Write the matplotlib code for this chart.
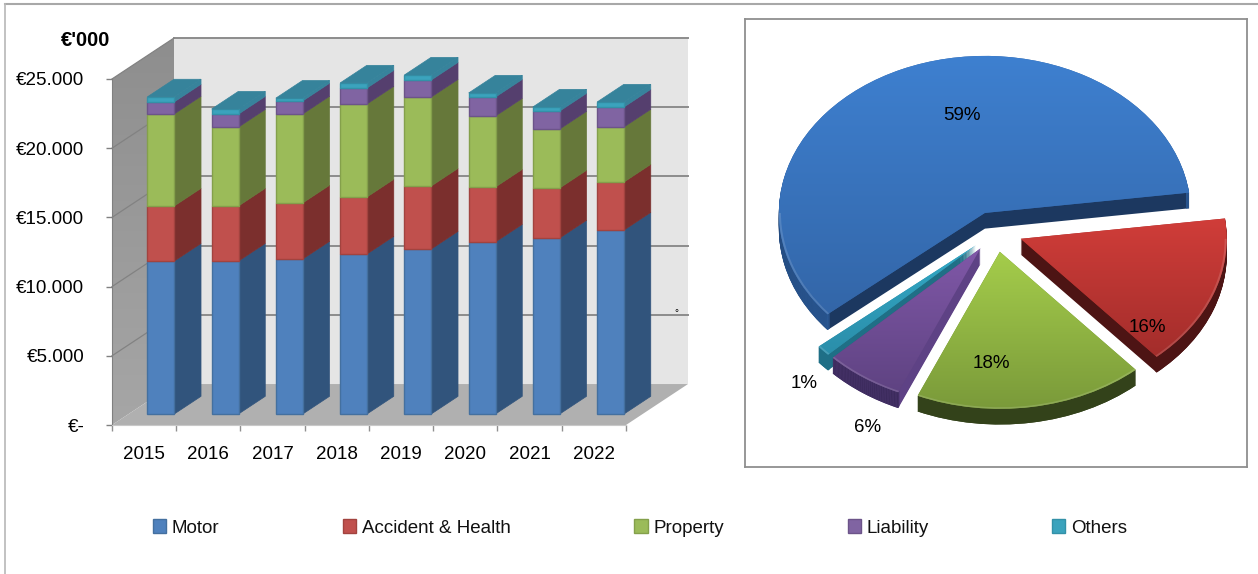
import numpy as np
import matplotlib
matplotlib.use('Agg')
import matplotlib.pyplot as plt
from matplotlib.colors import LinearSegmentedColormap
from matplotlib.lines import Line2D
from matplotlib.patches import Patch, Polygon, Wedge

plt.rcParams['font.family'] = ['Liberation Sans', 'DejaVu Sans']
plt.rcParams['font.size'] = 13.5

# data
years = ['2015', '2016', '2017', '2018', '2019', '2020', '2021', '2022']
series_names = ['Motor', 'Accident & Health', 'Property', 'Liability', 'Others']
motor = [11050, 11050, 11200, 11560, 11920, 12430, 12720, 13290]
accident = [3980, 3980, 4050, 4120, 4550, 3970, 3610, 3470]
prop = [6650, 5700, 6430, 6720, 6430, 5130, 4260, 3980]
liability = [870, 940, 940, 1155, 1230, 1370, 1300, 1440]
others = [360, 360, 200, 360, 360, 290, 290, 360]
y_ticks = [0, 5000, 10000, 15000, 20000, 25000]
y_labels = ['€-', '€5.000', '€10.000', '€15.000', '€20.000', '€25.000']
pie_shares = [59.1, 15.6, 18, 6.2, 1.1]
pie_labels = ['59%', '16%', '18%', '6%', '1%']

# colours per series
front_cols = ['#4f81bd', '#c0504d', '#9bbb59', '#8064a2', '#3ba3bd']
edge_cols = ['#44709f', '#a2433f', '#84a04b', '#6c5489', '#3391a8']
side_cols = ['#31547c', '#7b2f2d', '#66783a', '#553f6e', '#37839c']
top_col = '#36839b'
pie_light = ['#3e80d0', '#d03d39', '#a5cd4b', '#8058a8', '#33a9c6']
pie_dark = ['#3366a8', '#a32d2b', '#7a9a3a', '#5f4382', '#2b8eaa']
pie_side = ['#1c3860', '#4d1414', '#33421a', '#5e4285', '#1f6f86']
pie_rim = ['#2c5c9a', '#4d1414', '#33421a', '#3a2a5a', '#1f6f86']

W, H = 1258, 574
fig = plt.figure(figsize=(W / 100, H / 100), dpi=100, facecolor='white')

# border of the slide
fig.add_artist(Line2D([5 / W, 1], [1 - 4 / H, 1 - 4 / H], color='#a8a8a8', lw=1.5))
fig.add_artist(Line2D([5 / W, 5 / W], [0, 1 - 4 / H], color='#b8b8b8', lw=1.2))

# ---- stacked bars with fake 3D ----
ax = fig.add_axes([112 / W, 1 - 425 / H, (626 - 112) / W, (425 - 79) / H])

depth_x = 0.965
depth_y = 2960
bar_off = 0.27
bar_depth = 0.43
bar_w = 0.42
top_v = y_ticks[-1]
n_cat = len(years)

# walls and floor, left wall gets lighter towards the bottom
wall = Polygon([(0, 0), (depth_x, depth_y), (depth_x, top_v + depth_y), (0, top_v)],
               transform=ax.transData, fc='none', lw=0)
ax.add_patch(wall)
wall_cmap = LinearSegmentedColormap.from_list('wall', ['#8e8e8e', '#a6a6a6'])
wall_im = ax.imshow(np.linspace(0, 1, 100).reshape(-1, 1), cmap=wall_cmap, aspect='auto', origin='upper',
                    extent=(0, depth_x, 0, top_v + depth_y), zorder=1)
wall_im.set_clip_path(wall)
# the wall sticks out above the axes, so clip to the figure instead
wall_im.set_clip_box(fig.bbox)
ax.fill([depth_x, n_cat + depth_x, n_cat + depth_x, depth_x],
        [depth_y, depth_y, top_v + depth_y, top_v + depth_y],
        color='#e5e5e5', lw=0, clip_on=False, zorder=1)
ax.fill([0, n_cat, n_cat + depth_x, depth_x], [0, 0, depth_y, depth_y],
        color='#b0b0b0', lw=0, clip_on=False, zorder=1.5)

# gridlines
for v in y_ticks[1:]:
    ax.plot([depth_x, n_cat + depth_x], [v + depth_y, v + depth_y], color='#8c8c8c', lw=1.4,
            clip_on=False, zorder=2)
    ax.plot([0, depth_x], [v, v + depth_y], color='#828282', lw=0.9, clip_on=False, zorder=2)

# bars, one column at a time so that later ones sit on top
x_front = np.arange(n_cat) + 0.5 + depth_x * bar_off
y_base = depth_y * bar_off
dx = depth_x * bar_depth
dy = depth_y * bar_depth
stack = [motor, accident, prop, liability, others]
for i in range(n_cat):
    z = 3 + i
    bottom = y_base
    left = x_front[i] - bar_w / 2
    right = x_front[i] + bar_w / 2
    for k, vals in enumerate(stack):
        h = vals[i]
        ax.fill([right, right + dx, right + dx, right],
                [bottom, bottom + dy, bottom + h + dy, bottom + h],
                color=side_cols[k], ec=side_cols[k], lw=0.5, clip_on=False, zorder=z)
        ax.bar(x_front[i], h, bottom=bottom, width=bar_w, color=front_cols[k],
               edgecolor=edge_cols[k], linewidth=1, clip_on=False, zorder=z + 0.2)
        bottom += h
    ax.fill([left, right, right + dx, left + dx],
            [bottom, bottom, bottom + dy, bottom + dy],
            color=top_col, ec=top_col, lw=0.5, clip_on=False, zorder=z + 0.3)

ax.set_xlim(0, n_cat)
ax.set_ylim(0, 25000)

# axes
for s in ['top', 'right']:
    ax.spines[s].set_visible(False)
ax.spines['left'].set_color('#808080')
ax.spines['bottom'].set_color('#c8c8c8')
ax.patch.set_alpha(0)
ax.set_yticks(y_ticks)
ax.set_yticklabels(y_labels)
ax.tick_params(axis='y', length=4, width=1, color='#808080', pad=16, labelsize=13.5)
ax.set_xticks(np.arange(n_cat + 1))
ax.set_xticklabels([])
ax.set_xticks(np.arange(n_cat) + 0.5, minor=True)
ax.set_xticklabels(years, minor=True)
ax.tick_params(axis='x', which='major', length=4.5, width=1, color='#909090')
ax.tick_params(axis='x', which='minor', length=0, pad=15, labelsize=13.5)

fig.text(110 / W, 1 - 41 / H, "€'000", ha='right', va='center', fontsize=14.5, fontweight='bold')
fig.text(676 / W, 1 - 313 / H, '°', ha='center', va='center', fontsize=7)

# ---- exploded pie with fake 3D ----
pax = fig.add_axes([745 / W, 1 - 467 / H, 502 / W, 448 / H])
explode = [0.13] * len(pie_shares)
start = 220.2
n_layers = 16
pie_depth = 0.1
for j in range(n_layers, 0, -1):
    wedges, _ = pax.pie(pie_shares, explode=explode, colors=pie_side, startangle=start,
                        counterclock=False, center=(0, -pie_depth * j / n_layers),
                        wedgeprops={'lw': 0, 'zorder': 2 + (n_layers - j)})
    for k, w in enumerate(wedges):
        pax.add_patch(Wedge(w.center, w.r, w.theta1, w.theta2, width=0.015, color=pie_rim[k], lw=0,
                            zorder=2.5 + (n_layers - j)))

wedges, _ = pax.pie(pie_shares, explode=explode, colors=pie_dark, startangle=start,
                    counterclock=False, wedgeprops={'lw': 0, 'zorder': 50})
grad = np.linspace(0, 1, 200).reshape(-1, 1)
for k, w in enumerate(wedges):
    box = w.get_path().get_extents(w.get_patch_transform())
    cmap = LinearSegmentedColormap.from_list('g%d' % k, [pie_light[k], pie_dark[k]])
    im = pax.imshow(grad, cmap=cmap, aspect='auto', origin='upper', zorder=60,
                    extent=(box.x0, box.x1, box.y0, box.y1))
    im.set_clip_path(w)
    # thin light edge on the part of the arc that faces the viewer
    for lo, hi in [(-180, 0), (180, 360)]:
        a = max(w.theta1, lo)
        b = min(w.theta2, hi)
        if b > a:
            pax.add_patch(Wedge(w.center, w.r, a, b, width=0.01, color='white', alpha=0.14,
                                lw=0, zorder=70))

# the picture squashes the pie, so x and y have their own scale
pax.set_aspect('auto')
pax.set_xlim(-1.217, 1.22)
pax.set_ylim(-1.499, 1.354)
pax.set_xticks([])
pax.set_yticks([])
pax.set_frame_on(True)
for s in pax.spines.values():
    s.set_color('#8f8f8f')
    s.set_linewidth(1.3)

label_px = [(962, 116), (1147, 328), (991, 364), (868, 428), (804, 384)]
for txt, (px, py) in zip(pie_labels, label_px):
    fig.text(px / W, 1 - py / H, txt, ha='center', va='center', fontsize=13.5, zorder=10)

# legend
handles = [Patch(facecolor=front_cols[k], edgecolor=edge_cols[k], lw=1) for k in range(5)]
fig.legend(handles, series_names, ncol=5, loc='center', bbox_to_anchor=(640 / W, 1 - 528 / H),
           frameon=False, fontsize=13.5, handlelength=0.7, handleheight=0.7, handletextpad=0.3,
           columnspacing=6.6, labelcolor='#111111')

fig.savefig('out.png', dpi=100)
